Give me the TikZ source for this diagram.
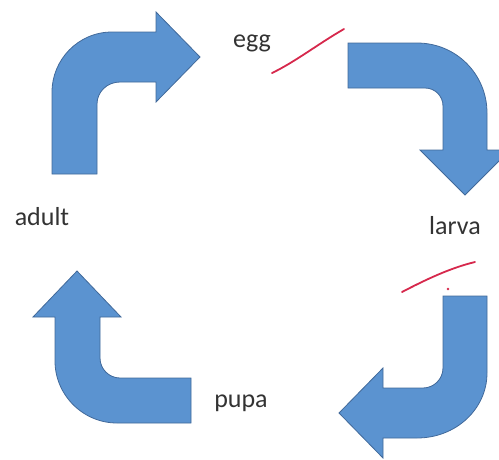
\documentclass[tikz,border=0pt]{standalone}
\usepackage{fontspec}
\setmainfont{Carlito}
\definecolor{arrowblue}{HTML}{5B93D0}
\definecolor{arrowedge}{HTML}{41699A}
\definecolor{penred}{HTML}{D6284C}
\definecolor{labelgray}{HTML}{333333}
\begin{document}
\begin{tikzpicture}[
        x=1pt, y=-1pt,
        bent/.style={fill=arrowblue, draw=arrowedge, line width=0.8pt},
        stage/.style={text=labelgray, font=\fontsize{26}{30}\selectfont, inner sep=0pt, anchor=base},
        pen/.style={draw=penred, line width=1.8pt, line cap=round},
    ]
    \useasboundingbox (0,0) rectangle (499,459);
    \clip (0,0) rectangle (499,459);
    \node[stage](egg) at (252,47) {egg};
    \node[stage](larva) at (455,234) {larva};
    \node[stage](pupa) at (241,407) {pupa};
    \node[stage](adult) at (42,225) {adult};
    \draw[bent] (52,174) -- (52,92) .. controls (52,60) and (78,32) .. (112,32) -- (156,32)
        -- (156,12) -- (200,57) -- (156,102) -- (156,82) -- (120,82)
        .. controls (107,82) and (97,92) .. (97,104) -- (97,174) -- cycle;
    \draw[bent] (348,43) -- (417,43) .. controls (456,43) and (487,74) .. (487,113) -- (487,150)
        -- (510,150) -- (465,195) -- (420,150) -- (443,150) -- (443,106)
        .. controls (443,96) and (435,88) .. (425,88) -- (348,88) -- cycle;
    \draw[bent] (443,296) -- (487,296) -- (487,373) .. controls (487,409) and (456,438) .. (417,438)
        -- (383,438) -- (383,458) -- (339,413) -- (383,368) -- (383,388) -- (423,388)
        .. controls (434,388) and (443,379) .. (443,368) -- cycle;
    \draw[bent] (191,378) -- (120,378) .. controls (109,378) and (100,369) .. (100,358) -- (100,317)
        -- (121,317) -- (77,271) -- (33,317) -- (55,317) -- (55,361)
        .. controls (55,395) and (83,423) .. (117,423) -- (191,423) -- cycle;
    \draw[pen] (272,73) .. controls (295,62) and (318,44) .. (344,29);
    \draw[pen] (402,292) .. controls (425,280) and (450,268) .. (475,262);
    \fill[penred] (448,289) circle (1.3);
\end{tikzpicture}
\end{document}
